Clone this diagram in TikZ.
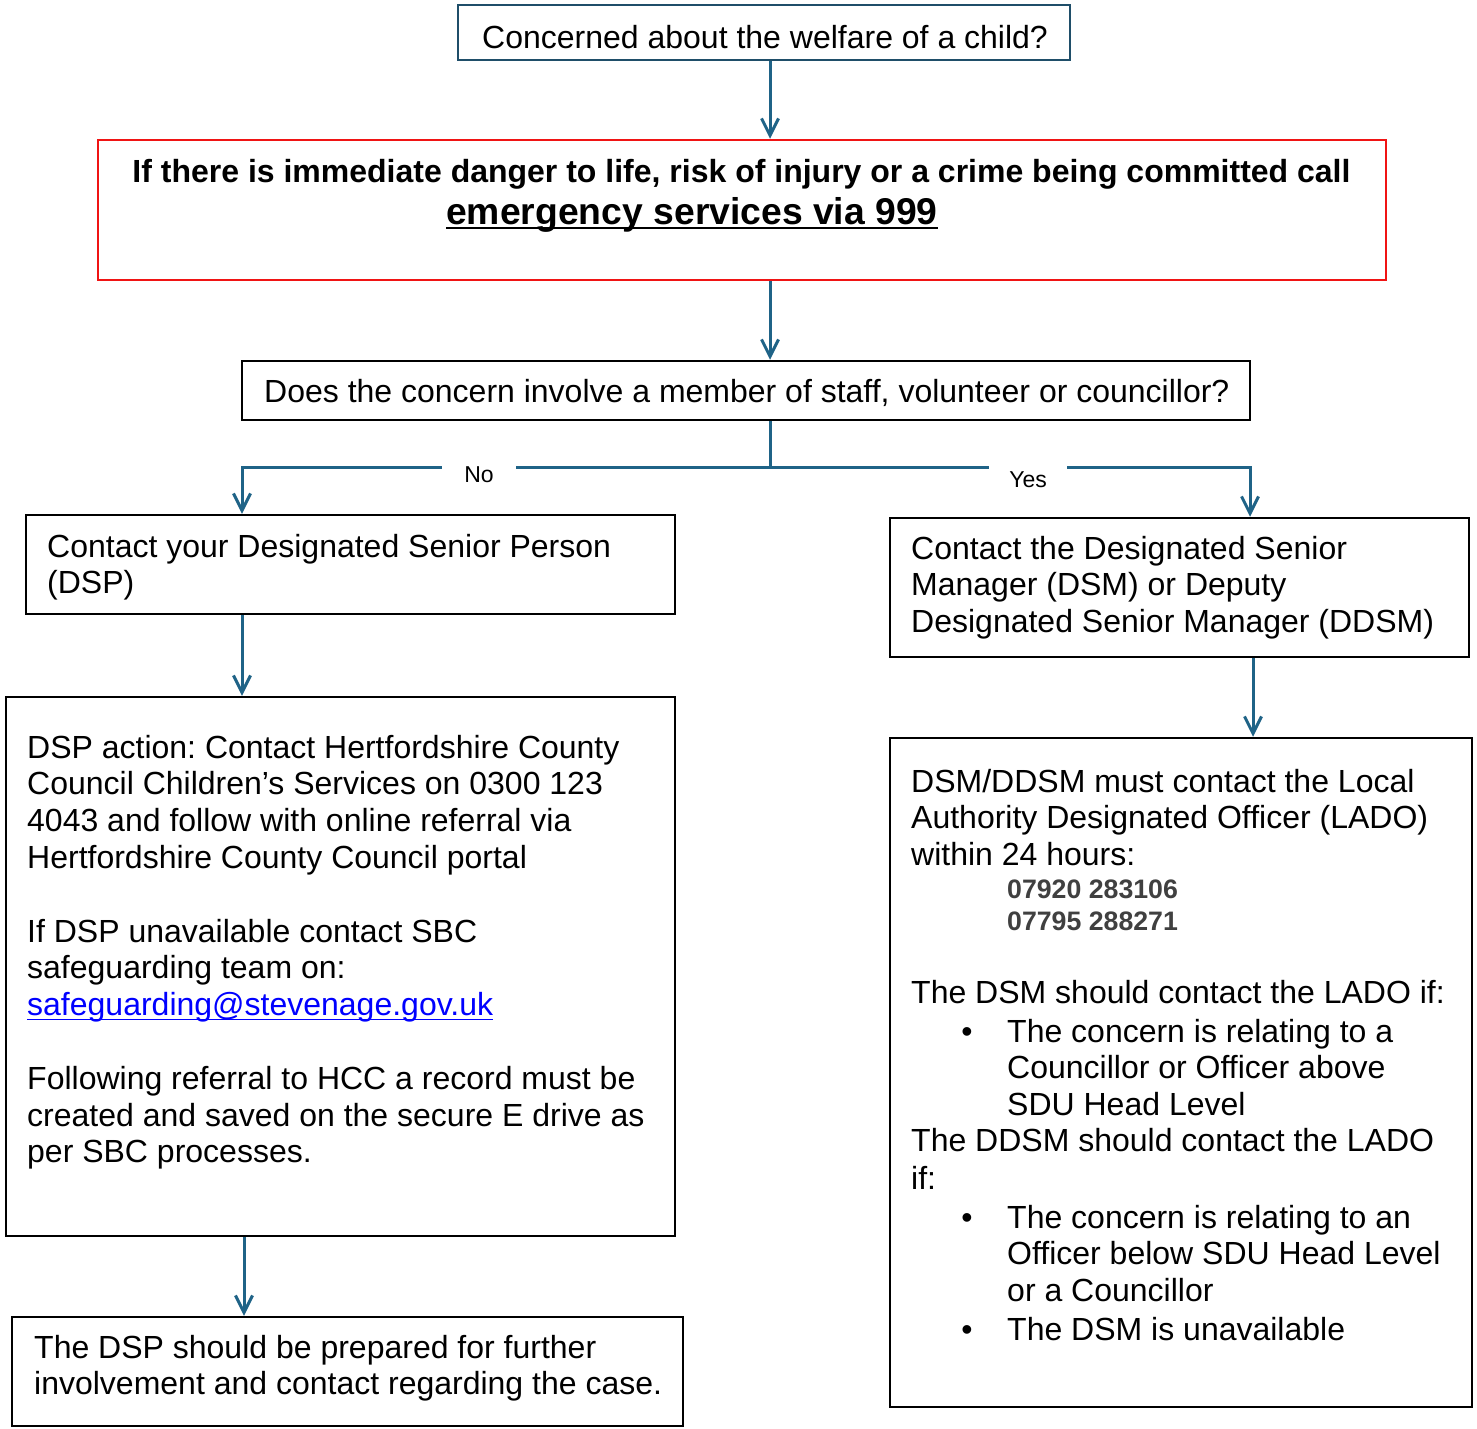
\documentclass[tikz,border=0pt]{standalone}
\usepackage{fontspec}
\setmainfont{Liberation Sans}
\usetikzlibrary{arrows.meta,fit}
\definecolor{connc}{RGB}{31,99,135}
\definecolor{topedge}{RGB}{31,78,105}
\definecolor{phonec}{RGB}{64,64,64}
\definecolor{redc}{RGB}{240,20,20}
\frenchspacing
\begin{document}
\frenchspacing
\begin{tikzpicture}[x=1pt,y=-1pt,
  box/.style={draw=black,line width=2.5pt,inner sep=0pt},
  txt/.style={anchor=base west,inner sep=0pt,font=\fontsize{32}{36.8}\selectfont},
  bold/.style={inner sep=0pt,anchor=base,font=\bfseries\fontsize{32}{36.8}\selectfont},
  phone/.style={anchor=base west,inner sep=0pt,text=phonec,font=\bfseries\fontsize{26.7}{30}\selectfont},
  bul/.style={anchor=base,inner sep=0pt,font=\fontsize{32}{36.8}\selectfont},
  lab/.style={fill=white,inner xsep=22pt,inner ysep=7pt,font=\fontsize{23}{26}\selectfont},
  arr/.style={draw=connc,line width=3pt,-{Straight Barb[length=17pt,width=17pt]}},
  branch/.style={draw=connc,line width=3pt}]
\useasboundingbox (0,0) rectangle (1477,1428);
\fill[white] (0,0) rectangle (1477,1428);

% boxes
\node[box,draw=topedge,fit={(458,5) (1070,60)}] (top) {};
\node[box,draw=redc,fit={(98,140) (1386,280)}] (red) {};
\node[box,fit={(242,361) (1250,420)}] (q) {};
\node[box,fit={(26,515) (675,614)}] (l1) {};
\node[box,fit={(6,697) (675,1236)}] (l2) {};
\node[box,fit={(12,1317) (683,1426)}] (l3) {};
\node[box,fit={(890,518) (1469,657)}] (r1) {};
\node[box,fit={(890,738) (1472,1407)}] (r2) {};

% helper coordinates for connectors
\coordinate (cx) at (770,0);
\coordinate (lx) at (242,0);
\coordinate (lx2) at (244,0);
\coordinate (rx) at (1250,0);
\coordinate (rx2) at (1253,0);
\coordinate (j) at (770,467);

% connectors
\draw[arr] (top.south -| cx) -- (red.north -| cx);
\draw[arr] (red.south -| cx) -- (q.north -| cx);
\draw[branch] (q.south -| cx) -- (j);
\draw[arr] (j) -- (j -| lx) -- (l1.north -| lx);
\draw[arr] (j) -- (j -| rx) -- (r1.north -| rx);
\draw[arr] (l1.south -| lx) -- (l2.north -| lx);
\draw[arr] (l2.south -| lx2) -- (l3.north -| lx2);
\draw[arr] (r1.south -| rx2) -- (r2.north -| rx2);

\node[lab] (no) at (479,475) {No};
\node[lab,inner xsep=20pt,inner ysep=9pt] (yes) at (1028,480) {Yes};

% texts
\node[txt] (t0) at (482,48) {Concerned about the welfare of a child?};
\node[bold] (t1) at (741.5,182) {If there is immediate danger to life, risk of injury or a crime being committed call};
\node[bold,font=\bfseries\fontsize{37.3}{42}\selectfont] (t2) at (692,224) {emergency services via 999};
\draw[line width=2.6pt] ([yshift=-4pt]t2.base west) -- ([yshift=-4pt]t2.base east);
\node[txt] (t3) at (264,402) {Does the concern involve a member of staff, volunteer or councillor?};

\node[txt] (a1) at (47,557) {Contact your Designated Senior Person};
\node[txt] (a2) at (47,593.8) {(DSP)};

\node[txt] (b1) at (27,758) {DSP action: Contact Hertfordshire County};
\node[txt] (b2) at (27,794.8) {Council Children’s Services on 0300 123};
\node[txt] (b3) at (27,831.6) {4043 and follow with online referral via};
\node[txt] (b4) at (27,868.4) {Hertfordshire County Council portal};
\node[txt] (b5) at (27,942) {If DSP unavailable contact SBC};
\node[txt] (b6) at (27,978.8) {safeguarding team on:};
\node[txt,text=blue] (b7) at (27,1015.6) {safeguarding@stevenage.gov.uk};
\draw[blue,line width=1.6pt] ([yshift=-4pt]b7.base west) -- ([yshift=-4pt]b7.base east);
\node[txt] (b8) at (27,1089.2) {Following referral to HCC a record must be};
\node[txt] (b9) at (27,1126) {created and saved on the secure E drive as};
\node[txt] (b10) at (27,1162.8) {per SBC processes.};

\node[txt] (c1) at (34,1358) {The DSP should be prepared for further};
\node[txt] (c2) at (34,1394.8) {involvement and contact regarding the case.};

\node[txt] (d1) at (911,559) {Contact the Designated Senior};
\node[txt] (d2) at (911,595.8) {Manager (DSM) or Deputy};
\node[txt] (d3) at (911,632.6) {Designated Senior Manager (DDSM)};

\node[txt] (e1) at (911,792) {DSM/DDSM must contact the Local};
\node[txt] (e2) at (911,828.8) {Authority Designated Officer (LADO)};
\node[txt] (e3) at (911,865.6) {within 24 hours:};
\node[phone] (p1) at (1007,898.5) {07920 283106};
\node[phone] (p2) at (1007,930.5) {07795 288271};
\node[txt] (e4) at (911,1003) {The DSM should contact the LADO if:};
\node[bul] (k1) at (967,1042) {•};
\node[txt] (e5) at (1007,1042) {The concern is relating to a};
\node[txt] (e6) at (1007,1078.8) {Councillor or Officer above};
\node[txt] (e7) at (1007,1115.6) {SDU Head Level};
\node[txt] (e8) at (911,1151.5) {The DDSM should contact the LADO};
\node[txt] (e9) at (911,1189) {if:};
\node[bul] (k2) at (967,1228) {•};
\node[txt] (e10) at (1007,1228) {The concern is relating to an};
\node[txt] (e11) at (1007,1264.8) {Officer below SDU Head Level};
\node[txt] (e12) at (1007,1301.6) {or a Councillor};
\node[bul] (k3) at (967,1340) {•};
\node[txt] (e13) at (1007,1340) {The DSM is unavailable};
\end{tikzpicture}
\end{document}
